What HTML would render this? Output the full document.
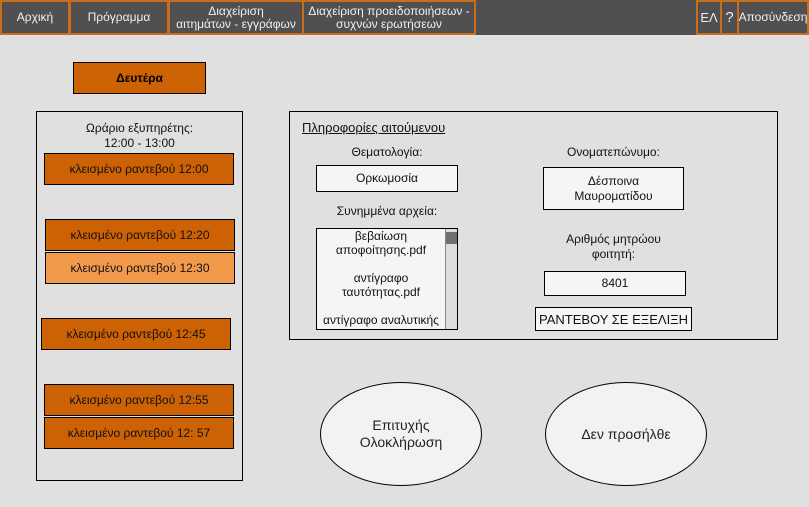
<!DOCTYPE html>
<html><head><meta charset="utf-8"><style>
body{margin:0;width:809px;height:507px;background:#e0e0e0;position:relative;overflow:hidden;font-family:"Liberation Sans","DejaVu Sans",sans-serif;}
.a{position:absolute;box-sizing:border-box;display:flex;align-items:center;justify-content:center;text-align:center;}
.nav{background:#505050;border:2px solid #cc6d1c;color:#f0f0f0;font-size:12px;line-height:13px;top:0;height:35px;}
.slot{background:#cc6204;border:1px solid #000;color:#111;font-size:12px;left:44px;width:190px;height:32px;}
.box{background:#f5f5f5;border:1px solid #000;font-size:12px;color:#111;line-height:15px;}
.lbl{font-size:12px;color:#111;line-height:15px;}
</style></head><body>
<div class="a" style="left:0;top:0;width:809px;height:35px;background:#505050"></div>
<div class="a nav" style="left:0;width:70px">Αρχική</div>
<div class="a nav" style="left:69px;width:100px">Πρόγραμμα</div>
<div class="a nav" style="left:168px;width:136px">Διαχείριση<br>αιτημάτων - εγγράφων</div>
<div class="a nav" style="left:302px;width:174px">Διαχείριση προειδοποιήσεων -<br>συχνών ερωτήσεων</div>
<div class="a nav" style="left:696px;width:26px;font-size:13px">ΕΛ</div>
<div class="a nav" style="left:720px;width:19px;font-size:15px">?</div>
<div class="a nav" style="left:737px;width:72px">Αποσύνδεση</div>

<div class="a" style="left:73px;top:62px;width:133px;height:32px;background:#cc6204;border:1px solid #000;font-weight:bold;font-size:12px">Δευτέρα</div>

<div class="a" style="left:36px;top:111px;width:207px;height:370px;border:1px solid #000"></div>
<div class="a lbl" style="left:36px;top:121px;width:207px">Ωράριο εξυπηρέτης:<br>12:00 - 13:00</div>
<div class="a slot" style="top:153px">κλεισμένο ραντεβού 12:00</div>
<div class="a slot" style="left:45px;top:219px">κλεισμένο ραντεβού 12:20</div>
<div class="a slot" style="left:45px;top:252px;background:#f29a4c">κλεισμένο ραντεβού 12:30</div>
<div class="a slot" style="left:41px;top:318px">κλεισμένο ραντεβού 12:45</div>
<div class="a slot" style="top:384px">κλεισμένο ραντεβού 12:55</div>
<div class="a slot" style="top:417px">κλεισμένο ραντεβού 12: 57</div>

<div class="a" style="left:289px;top:111px;width:489px;height:229px;border:1px solid #000"></div>
<div class="a lbl" style="left:302px;top:120px;font-size:13px;text-decoration:underline">Πληροφορίες αιτούμενου</div>
<div class="a lbl" style="left:316px;top:145px;width:142px">Θεματολογία:</div>
<div class="a box" style="left:316px;top:165px;width:142px;height:27px">Ορκωμοσία</div>
<div class="a lbl" style="left:316px;top:204px;width:142px">Συνημμένα αρχεία:</div>
<div class="a box" style="left:316px;top:228px;width:142px;height:102px;display:block;overflow:hidden;padding-right:12px;padding-top:0">
<div style="line-height:14px">βεβαίωση<br>αποφοίτησης.pdf<br><br>αντίγραφο<br>ταυτότητας.pdf<br><br>αντίγραφο αναλυτικής</div>
<div style="position:absolute;right:0;top:0;width:11px;height:100px;background:#ddd;border-left:1px solid #888"></div>
<div style="position:absolute;right:0;top:3px;width:11px;height:12px;background:#707070"></div>
</div>
<div class="a lbl" style="left:543px;top:145px;width:141px">Ονοματεπώνυμο:</div>
<div class="a box" style="left:543px;top:167px;width:141px;height:43px">Δέσποινα<br>Μαυροματίδου</div>
<div class="a lbl" style="left:543px;top:232px;width:141px">Αριθμός μητρώου<br>φοιτητή:</div>
<div class="a box" style="left:544px;top:271px;width:142px;height:25px">8401</div>
<div class="a box" style="left:535px;top:307px;width:157px;height:24px;font-size:13px">ΡΑΝΤΕΒΟΥ ΣΕ ΕΞΕΛΙΞΗ</div>

<div class="a" style="left:320px;top:382px;width:162px;height:104px;border-radius:50%;background:#f2f2f2;border:1px solid #000;font-size:14px;line-height:17px;color:#222">Επιτυχής<br>Ολοκλήρωση</div>
<div class="a" style="left:545px;top:382px;width:162px;height:104px;border-radius:50%;background:#f2f2f2;border:1px solid #000;font-size:14px;color:#222">Δεν προσήλθε</div>
</body></html>
